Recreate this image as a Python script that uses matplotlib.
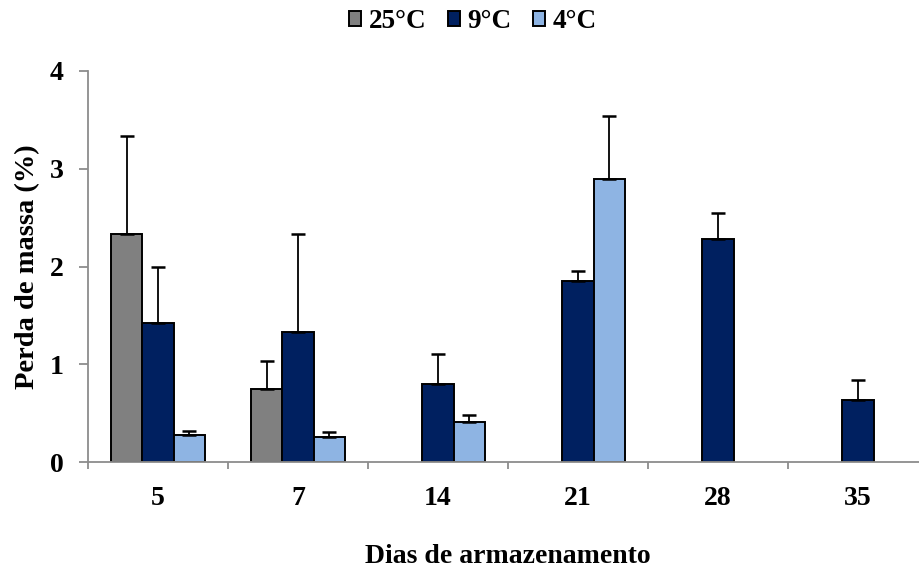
import numpy as np
import matplotlib
matplotlib.use("Agg")
from matplotlib import pyplot as plt
from matplotlib.ticker import FixedLocator, NullFormatter

plt.rcParams["font.family"] = ["Liberation Serif", "DejaVu Serif"]
plt.rcParams["font.weight"] = "bold"

days = ["5", "7", "14", "21", "28", "35"]
series = ["25°C", "9°C", "4°C"]
colors = ["#808080", "#002060", "#8EB4E3"]

# mean mass loss (%) and upper error, nan = no bar
mean_25 = [2.33, 0.75, np.nan, np.nan, np.nan, np.nan]
mean_9 = [1.42, 1.33, 0.80, 1.85, 2.28, 0.63]
mean_4 = [0.28, 0.26, 0.41, 2.90, np.nan, np.nan]
err_25 = [1.00, 0.28, np.nan, np.nan, np.nan, np.nan]
err_9 = [0.57, 1.00, 0.30, 0.10, 0.27, 0.21]
err_4 = [0.04, 0.05, 0.07, 0.64, np.nan, np.nan]

means = [mean_25, mean_9, mean_4]
errs = [err_25, err_9, err_4]

fig = plt.figure(figsize=(9.2, 5.7), dpi=100)
ax = fig.add_axes([88 / 920, 1 - 462 / 570, 840 / 920, 391 / 570])

x = np.arange(len(days)) + 0.5
w = 0.222
offsets = [-w, 0, w]

for m, e, c, off, lab in zip(means, errs, colors, offsets, series):
    m = np.array(m)
    e = np.array(e)
    ax.bar(x + off, m, width=w, color=c, edgecolor="black", linewidth=1.4, label=lab, zorder=2)
    ax.errorbar(x + off, m, yerr=[np.zeros_like(e), e], fmt="none", ecolor="black",
                elinewidth=1.3, capsize=5, capthick=1.8, zorder=3)

ax.set_xlim(0, len(days))
ax.set_ylim(0, 4)
ax.set_yticks([0, 1, 2, 3, 4])
ax.set_xticks(x)
ax.set_xticklabels(days)
ax.xaxis.set_minor_locator(FixedLocator(np.arange(len(days) + 1)))
ax.xaxis.set_minor_formatter(NullFormatter())
ax.tick_params(axis="x", which="major", length=0, pad=17, labelsize=20)
ax.tick_params(axis="x", which="minor", length=5, width=1.3, color="#8c8c8c", direction="out")
ax.tick_params(axis="y", length=6.5, width=1.3, color="#8c8c8c", labelsize=20, pad=11)

for s in ["top", "right"]:
    ax.spines[s].set_visible(False)
for s in ["left", "bottom"]:
    ax.spines[s].set_color("#8c8c8c")
    ax.spines[s].set_linewidth(1.3)

ax.set_ylabel("Perda de massa (%)", fontsize=20.5, fontweight="bold", labelpad=7)
ax.set_xlabel("Dias de armazenamento", fontsize=20, fontweight="bold", labelpad=24)

fig.legend(loc="upper center", bbox_to_anchor=(0.514, 1.027), ncol=3, frameon=False,
           handlelength=0.45, handleheight=0.45, handletextpad=0.27,
           columnspacing=0.8, prop={"weight": "bold", "size": 19.5})

fig.savefig("out.png", dpi=100)
